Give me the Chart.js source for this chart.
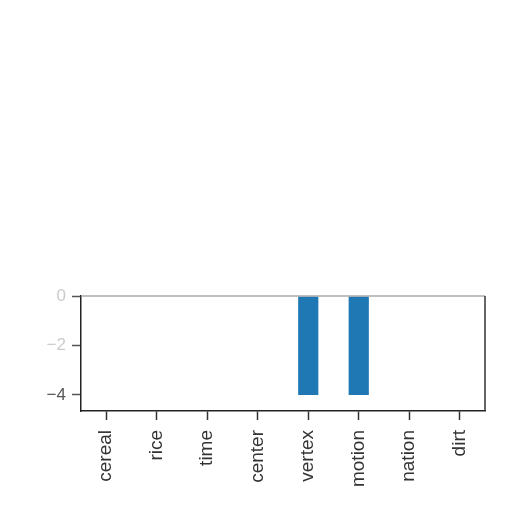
<!DOCTYPE html>
<html>
<head>
<meta charset="utf-8">
<script src="https://cdn.jsdelivr.net/npm/chart.js@4/dist/chart.umd.min.js"></script>
<style>
  html, body { margin: 0; padding: 0; background: #fff; }
  #wrap { width: 512px; height: 512px; }
</style>
</head>
<body>
<div id="wrap"><canvas id="chart" width="512" height="512"></canvas></div>
<script>
// -- Data --
var categories = ['cereal', 'rice', 'time', 'center', 'vertex', 'motion', 'nation', 'dirt'];
var values = [0, 0, 0, 0, -4, -4, 0, 0];
var yTicks = [0, -2, -4];

// Frame around the plot area (matplotlib-style spines)
var spines = {
  id: 'spines',
  afterDatasetsDraw: function (chart) {
    var a = chart.chartArea;
    var ctx = chart.ctx;
    ctx.save();
    ctx.lineWidth = 1.5;
    ctx.strokeStyle = '#aaaaaa';
    ctx.beginPath();
    ctx.moveTo(a.left, a.top);
    ctx.lineTo(a.right, a.top);
    ctx.stroke();
    ctx.strokeStyle = '#333333';
    ctx.beginPath();
    ctx.moveTo(a.right, a.top);
    ctx.lineTo(a.right, a.bottom);
    ctx.stroke();
    ctx.restore();
  }
};

new Chart(document.getElementById('chart').getContext('2d'), {
  type: 'bar',
  data: {
    labels: categories,
    datasets: [{
      data: values,
      backgroundColor: '#1f77b4',
      borderWidth: 0,
      barPercentage: 0.4,
      categoryPercentage: 1
    }]
  },
  options: {
    responsive: false,
    animation: false,
    layout: { padding: { top: 296, right: 27, left: 0, bottom: 0 } },
    plugins: {
      legend: { display: false },
      tooltip: { enabled: false }
    },
    scales: {
      x: {
        offset: true,
        grid: {
          display: true,
          offset: false,
          drawOnChartArea: false,
          tickLength: 9,
          tickColor: '#333',
          tickWidth: 1.5
        },
        border: { color: '#222', width: 1.5 },
        ticks: {
          minRotation: 90,
          maxRotation: 90,
          padding: 10,
          color: '#333',
          font: { family: 'Liberation Sans, Arial, sans-serif', size: 19 }
        },
        afterFit: function (scale) { scale.height = 101; }
      },
      y: {
        min: -4.65,
        max: 0,
        afterBuildTicks: function (axis) {
          axis.ticks = yTicks.map(function (v) { return { value: v }; });
        },
        grid: {
          display: true,
          drawOnChartArea: false,
          tickLength: 9,
          tickColor: '#555',
          tickWidth: 1.5
        },
        border: { color: '#222', width: 1.5 },
        ticks: {
          padding: 6,
          color: function (c) { return c.tick && c.tick.value === -4 ? '#555' : '#cccccc'; },
          font: { family: 'Liberation Sans, Arial, sans-serif', size: 17 },
          callback: function (v) { return String(v).replace('-', '\u2212'); }
        },
        afterFit: function (scale) { scale.width = 81; }
      }
    }
  },
  plugins: [spines]
});
</script>
</body>
</html>
